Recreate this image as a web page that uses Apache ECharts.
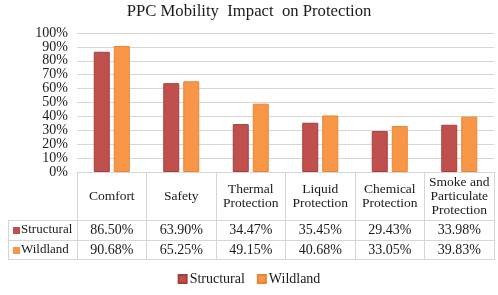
<!DOCTYPE html>
<html><head><meta charset="utf-8">
<script src="https://cdn.jsdelivr.net/npm/echarts@6/dist/echarts.min.js"></script>
<style>html,body{margin:0;padding:0;background:#fff}#c{width:498px;height:295px}</style>
</head><body><div id="c"></div>
<script>
var categories = ['Comfort', 'Safety', 'Thermal\nProtection', 'Liquid\nProtection', 'Chemical\nProtection', 'Smoke and\nParticulate\nProtection'];
var structural = [86.50, 63.90, 34.47, 35.45, 29.43, 33.98];
var wildland = [90.68, 65.25, 49.15, 40.68, 33.05, 39.83];
var seriesNames = ['Structural', 'Wildland'];
var yTicks = { min: 0, max: 100, interval: 10 };

var FONT = '"Liberation Serif", "Times New Roman", serif';
var TXT = '#1a1a1a';
var LINE = '#d6d6d6';
var C1 = '#c0504d', C2 = '#f79646';
var L = 77, R = 4, T = 33, B0 = 172; // grid
var TL = 8, ROW1 = 220, ROW2 = 240, ROW3 = 260;

function fmt(v){ return v.toFixed(2) + '%'; }

var chart = echarts.init(document.getElementById('c'));
var option = {
  animation: false,
  title: { text: 'PPC Mobility  Impact  on Protection', left: 'center', top: -2,
    textStyle: { fontFamily: FONT, fontSize: 16.7, fontWeight: 'normal', color: TXT } },
  legend: { data: seriesNames, bottom: 4, left: 'center', icon: 'rect', itemWidth: 8, itemHeight: 8, itemGap: 12,
    textStyle: { fontFamily: FONT, fontSize: 14, color: TXT, padding: [0,0,0,-2] } },
  grid: { left: L, right: R, top: T, bottom: 295 - B0, containLabel: false },
  xAxis: [
    { type: 'category', data: categories, position: 'bottom',
      axisLine: { show: true, lineStyle: { color: LINE } },
      axisTick: { show: true, interval: 0, length: ROW3 - B0, lineStyle: { color: LINE } },
      axisLabel: { interval: 0, margin: 24, verticalAlign: 'middle', align: 'center', lineHeight: 14,
        fontFamily: FONT, fontSize: 13.5, color: TXT } },
    { type: 'category', data: categories, position: 'bottom',
      axisLine: { show: false }, axisTick: { show: false },
      axisLabel: { interval: 0, margin: 58, verticalAlign: 'middle', fontFamily: FONT, fontSize: 14, color: TXT,
        formatter: function(v, i){ return fmt(structural[i]); } } },
    { type: 'category', data: categories, position: 'bottom',
      axisLine: { show: false }, axisTick: { show: false },
      axisLabel: { interval: 0, margin: 78, verticalAlign: 'middle', fontFamily: FONT, fontSize: 14, color: TXT,
        formatter: function(v, i){ return fmt(wildland[i]); } } }
  ],
  yAxis: { type: 'value', min: yTicks.min, max: yTicks.max, interval: yTicks.interval,
    axisLine: { show: false }, axisTick: { show: false },
    splitLine: { lineStyle: { color: LINE, width: 1 } },
    axisLabel: { formatter: '{value}%', margin: 9, fontFamily: FONT, fontSize: 14, color: TXT } },
  series: [
    { name: seriesNames[0], type: 'bar', data: structural, barWidth: 16, barGap: '25%',
      itemStyle: { color: C1, borderColor: '#a63f3c', borderWidth: 1 } },
    { name: seriesNames[1], type: 'bar', data: wildland, barWidth: 16,
      itemStyle: { color: C2, borderColor: '#e98534', borderWidth: 1 } }
  ],
  graphic: [
    { type: 'line', shape: { x1: TL, y1: ROW1 + 0.5, x2: 498 - R, y2: ROW1 + 0.5 }, style: { stroke: LINE, lineWidth: 1 } },
    { type: 'line', shape: { x1: TL, y1: ROW2 + 0.5, x2: 498 - R, y2: ROW2 + 0.5 }, style: { stroke: LINE, lineWidth: 1 } },
    { type: 'line', shape: { x1: TL, y1: ROW3 - 0.5, x2: 498 - R, y2: ROW3 - 0.5 }, style: { stroke: LINE, lineWidth: 1 } },
    { type: 'line', shape: { x1: TL + 0.5, y1: ROW1, x2: TL + 0.5, y2: ROW3 }, style: { stroke: LINE, lineWidth: 1 } },
    { type: 'rect', shape: { x: 13, y: 227, width: 7, height: 7 }, style: { fill: C1 } },
    { type: 'rect', shape: { x: 13, y: 247, width: 7, height: 7 }, style: { fill: C2 } },
    { type: 'text', x: 21, y: (ROW1 + ROW2) / 2, style: { text: seriesNames[0], font: '13px ' + FONT, fill: TXT, verticalAlign: 'middle' } },
    { type: 'text', x: 21, y: (ROW2 + ROW3) / 2, style: { text: seriesNames[1], font: '13px ' + FONT, fill: TXT, verticalAlign: 'middle' } }
  ]
};
chart.setOption(option);
</script>
</body></html>
